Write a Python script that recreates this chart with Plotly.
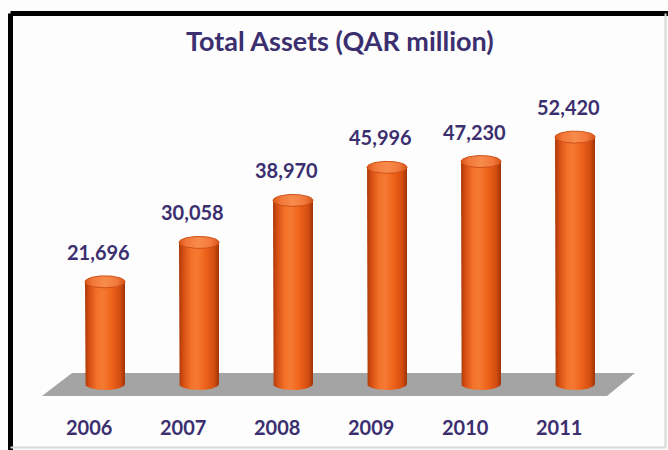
import numpy as np
import plotly.graph_objects as go

# Total assets by year, QAR million
years = ["2006", "2007", "2008", "2009", "2010", "2011"]
assets = [21696, 30058, 38970, 45996, 47230, 52420]

W, H = 668, 450
TEXT = "#3b2f6f"
FONT = "Lato"

# axis geometry (values plotted in thousands)
X_RANGE = [-1.117, 5.989]
Y_RANGE = [-14.01, 81.53]
px_per_x = W / (X_RANGE[1] - X_RANGE[0])
px_per_y = H / (Y_RANGE[1] - Y_RANGE[0])

RX = 20 / px_per_x          # cylinder half width
RY = 6 / px_per_y           # half height of the elliptical ends

body_scale = [
    [0.0, "#a93807"], [0.10, "#d44d12"], [0.30, "#f37229"],
    [0.45, "#f57a33"], [0.65, "#f0641b"], [0.88, "#d34d10"], [1.0, "#9e3306"],
]
cap_scale = [
    [0.0, "#d9561a"], [0.2, "#f3793a"], [0.5, "#f78c4c"],
    [0.8, "#f2773a"], [1.0, "#d45418"],
]

fig = go.Figure()

t_front = np.linspace(np.pi, 2 * np.pi, 40)
t_full = np.linspace(0, 2 * np.pi, 80)

for i, v in enumerate(assets):
    top = v / 1000.0
    # cylinder body: sides plus the front half of the base ellipse
    bx = np.concatenate([[i - RX, i - RX], i + RX * np.cos(t_front), [i + RX, i - RX]])
    by = np.concatenate([[top, 0], RY * np.sin(t_front), [top, top]])
    fig.add_trace(go.Scatter(
        x=bx, y=by, mode="lines", fill="toself",
        line=dict(width=0, color="rgba(0,0,0,0)"),
        fillgradient=dict(type="horizontal", colorscale=body_scale,
                          start=i - RX, stop=i + RX),
        hoverinfo="skip", showlegend=False,
    ))
    # top cap
    fig.add_trace(go.Scatter(
        x=i + RX * np.cos(t_full), y=top + RY * np.sin(t_full),
        mode="lines", fill="toself",
        line=dict(width=1, color="#cf5016"),
        fillgradient=dict(type="horizontal", colorscale=cap_scale,
                          start=i - RX, stop=i + RX),
        hoverinfo="skip", showlegend=False,
    ))

annotations = []
# value labels above each cylinder
for i, v in enumerate(assets):
    annotations.append(dict(
        x=i, y=v / 1000.0, xref="x", yref="y", text=f"{v:,}",
        showarrow=False, yshift=30, xshift=-7,
        font=dict(family=FONT, size=20, color=TEXT, weight="bold"),
    ))
# year labels along the front edge of the floor
for i, yr in enumerate(years):
    annotations.append(dict(
        x=i, y=1 - 427 / H, xref="x", yref="paper", text=yr,
        showarrow=False, xshift=-16, yanchor="middle",
        font=dict(family=FONT, size=20, color=TEXT, weight="bold"),
    ))
# title
annotations.append(dict(
    x=340 / W, y=1 - 40 / H, xref="paper", yref="paper",
    text="Total Assets (QAR million)", showarrow=False,
    xanchor="center", yanchor="middle",
    font=dict(family=FONT, size=27, color=TEXT, weight="bold"),
))


def px(x, y):
    return x / W, 1 - y / H


shapes = []
# grey floor under the cylinders
floor_pts = [px(42, 396), px(607, 396), px(635, 373), px(72, 373)]
path = "M " + " L ".join(f"{a},{b}" for a, b in floor_pts) + " Z"
shapes.append(dict(type="path", path=path, xref="paper", yref="paper",
                   fillcolor="#a4a4a4", line=dict(width=0), layer="below"))
# frame: heavy top/left edges, light right/bottom edges
x0, y0 = px(10.5, 13.5)
x1, y1 = px(665.5, 447.5)
shapes += [
    dict(type="line", xref="paper", yref="paper", x0=x0, y0=y0, x1=1.0, y1=y0,
         line=dict(color="#000000", width=5)),
    dict(type="line", xref="paper", yref="paper", x0=x0, y0=y0, x1=x0, y1=0,
         line=dict(color="#000000", width=5)),
    dict(type="line", xref="paper", yref="paper", x0=x1, y0=y0, x1=x1, y1=y1,
         line=dict(color="#d8d8d8", width=2)),
    dict(type="line", xref="paper", yref="paper", x0=x0, y0=y1, x1=x1, y1=y1,
         line=dict(color="#d8d8d8", width=2)),
]

fig.update_layout(
    width=W, height=H,
    margin=dict(l=0, r=0, t=0, b=0, pad=0),
    paper_bgcolor="#ffffff", plot_bgcolor="#fdfdfd",
    xaxis=dict(range=X_RANGE, visible=False, fixedrange=True),
    yaxis=dict(range=Y_RANGE, visible=False, fixedrange=True),
    annotations=annotations, shapes=shapes,
    showlegend=False,
)

fig.write_html("out.html", config={"displayModeBar": False})
